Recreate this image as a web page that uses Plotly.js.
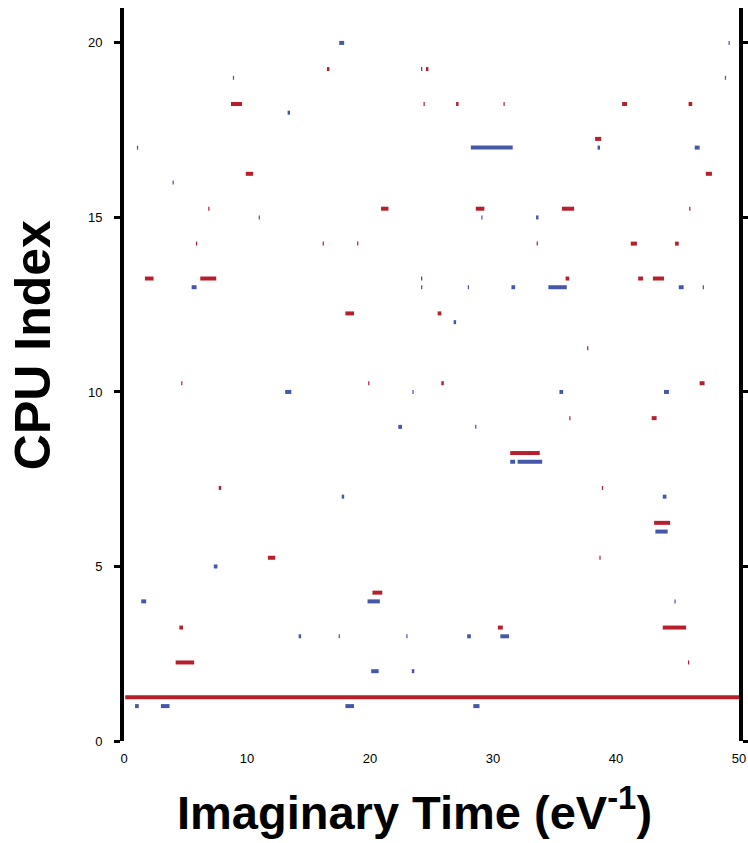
<!DOCTYPE html>
<html>
<head>
<meta charset="utf-8">
<script src="https://cdn.plot.ly/plotly-3.0.1.min.js"></script>
<style>html,body{margin:0;padding:0;background:#fff;}#chart{width:748px;height:843px;}</style>
</head>
<body>
<div id="chart"></div>
<script>
// Blue segments: CPU row, start and end imaginary time
const blueRow   = [20,20, 19,19, 18, 17,17,17,17, 16, 15,15,15, 13,13,13,13,13,13,13, 12, 10,10,10,10, 9,9, 8,8, 7,7, 6, 5, 4,4,4, 3,3,3,3,3, 2,2, 1,1,1,1];
const blueStart = [17.5,49.15, 8.85,48.85, 13.3, 1.05,28.2,38.5,46.4, 3.95, 10.95,29.05,33.5, 5.5,24.15,27.95,31.5,34.5,45.1,47.05, 26.8, 13.1,23.45,35.4,43.9, 22.3,28.55, 31.4,32.0, 17.7,43.8, 43.2, 7.3, 1.4,19.8,44.75, 14.2,17.45,22.95,27.9,30.6, 20.1,23.4, 0.9,3.0,18.0,28.4];
const blueEnd   = [17.9,49.25, 8.95,48.95, 13.5, 1.15,31.6,38.7,46.8, 4.05, 11.05,29.15,33.7, 5.9,24.25,28.05,31.8,36.0,45.5,47.15, 27.0, 13.6,23.55,35.7,44.3, 22.6,28.65, 31.8,34.0, 17.9,44.1, 44.2, 7.6, 1.8,20.8,44.85, 14.4,17.55,23.05,28.2,31.3, 20.7,23.6, 1.2,3.7,18.7,28.9];

// Red segments: CPU row, start and end imaginary time
const redRow   = [19,19,19, 18,18,18,18,18,18, 17, 16,16, 15,15,15,15,15, 14,14,14,14,14,14, 13,13,13,13,13,13, 12,12, 11, 10,10,10,10, 9,9, 8, 7,7, 6, 5,5, 4, 3,3,3, 2,2, 1];
const redStart = [16.5,24.15,24.55, 8.7,24.35,27.0,30.85,40.5,45.9, 38.3, 9.9,47.3, 6.85,20.9,28.6,35.6,45.95, 5.85,16.15,18.95,33.55,41.2,44.8, 1.7,6.2,24.15,35.9,41.8,43.0, 18.0,25.5, 37.65, 4.65,19.85,25.8,46.8, 36.2,42.9, 31.4, 7.7,38.85, 43.1, 11.7,38.65, 20.2, 4.5,30.4,43.8, 4.2,45.85, 0.1];
const redEnd   = [16.7,24.25,24.75, 9.6,24.45,27.2,30.95,40.9,46.2, 38.8, 10.5,47.8, 6.95,21.5,29.3,36.6,46.05, 5.95,16.25,19.05,33.65,41.7,45.1, 2.4,7.5,24.25,36.2,42.2,43.9, 18.7,25.8, 37.75, 4.75,19.95,26.0,47.2, 36.3,43.3, 33.8, 7.9,38.95, 44.4, 12.3,38.75, 21.0, 4.8,30.8,45.7, 5.7,45.95, 50];

const yTicks = [0, 5, 10, 15, 20];
const xTicks = [0, 10, 20, 30, 40, 50];

const redOffset = 0.25;

function segs(rows, starts, ends, off) {
  const x = [], y = [];
  for (let i = 0; i < rows.length; i++) {
    x.push(starts[i], ends[i], null);
    y.push(rows[i] + off, rows[i] + off, null);
  }
  return {x, y};
}

const b = segs(blueRow, blueStart, blueEnd, 0);
const r = segs(redRow, redStart, redEnd, redOffset);

const traces = [
  {x: b.x, y: b.y, mode: 'lines', type: 'scatter', line: {color: '#4558a8', width: 4}, connectgaps: false, hoverinfo: 'skip'},
  {x: r.x, y: r.y, mode: 'lines', type: 'scatter', line: {color: '#b71f2d', width: 4}, connectgaps: false, hoverinfo: 'skip'}
];

const layout = {
  width: 748, height: 843,
  margin: {l: 124, r: 9, t: 8, b: 102},
  paper_bgcolor: '#fff', plot_bgcolor: '#fff',
  showlegend: false,
  font: {family: 'Liberation Sans, Arial, sans-serif', color: '#000'},
  xaxis: {
    range: [0, 50], tickvals: xTicks, ticktext: xTicks.map(String),
    showline: false, showgrid: false, zeroline: false, ticks: '',
    ticklabelstandoff: 8,
    tickfont: {size: 13, color: '#000'}
  },
  yaxis: {
    range: [0, 21], tickvals: yTicks, ticktext: yTicks.map(String),
    showline: true, linecolor: '#000', linewidth: 4, mirror: 'ticks',
    ticks: 'outside', ticklen: 6, tickwidth: 3, tickcolor: '#000',
    ticklabelstandoff: 9,
    showgrid: false, zeroline: false,
    tickfont: {size: 13, color: '#000'}
  },
  annotations: [
    {text: '<b>CPU Index</b>', xref: 'paper', yref: 'paper', x: -0.148, y: 0.54,
     xanchor: 'center', yanchor: 'middle', textangle: -90, showarrow: false,
     font: {size: 50, family: 'Liberation Sans, Arial, sans-serif', color: '#000'}},
    {text: '<b>Imaginary Time (eV<sup>-1</sup>)</b>', xref: 'paper', yref: 'paper', x: 0.473, y: -0.093,
     xanchor: 'center', yanchor: 'middle', showarrow: false,
     font: {size: 47, family: 'Liberation Sans, Arial, sans-serif', color: '#000'}}
  ]
};

Plotly.newPlot('chart', traces, layout, {staticPlot: true, displayModeBar: false});
</script>
</body>
</html>
